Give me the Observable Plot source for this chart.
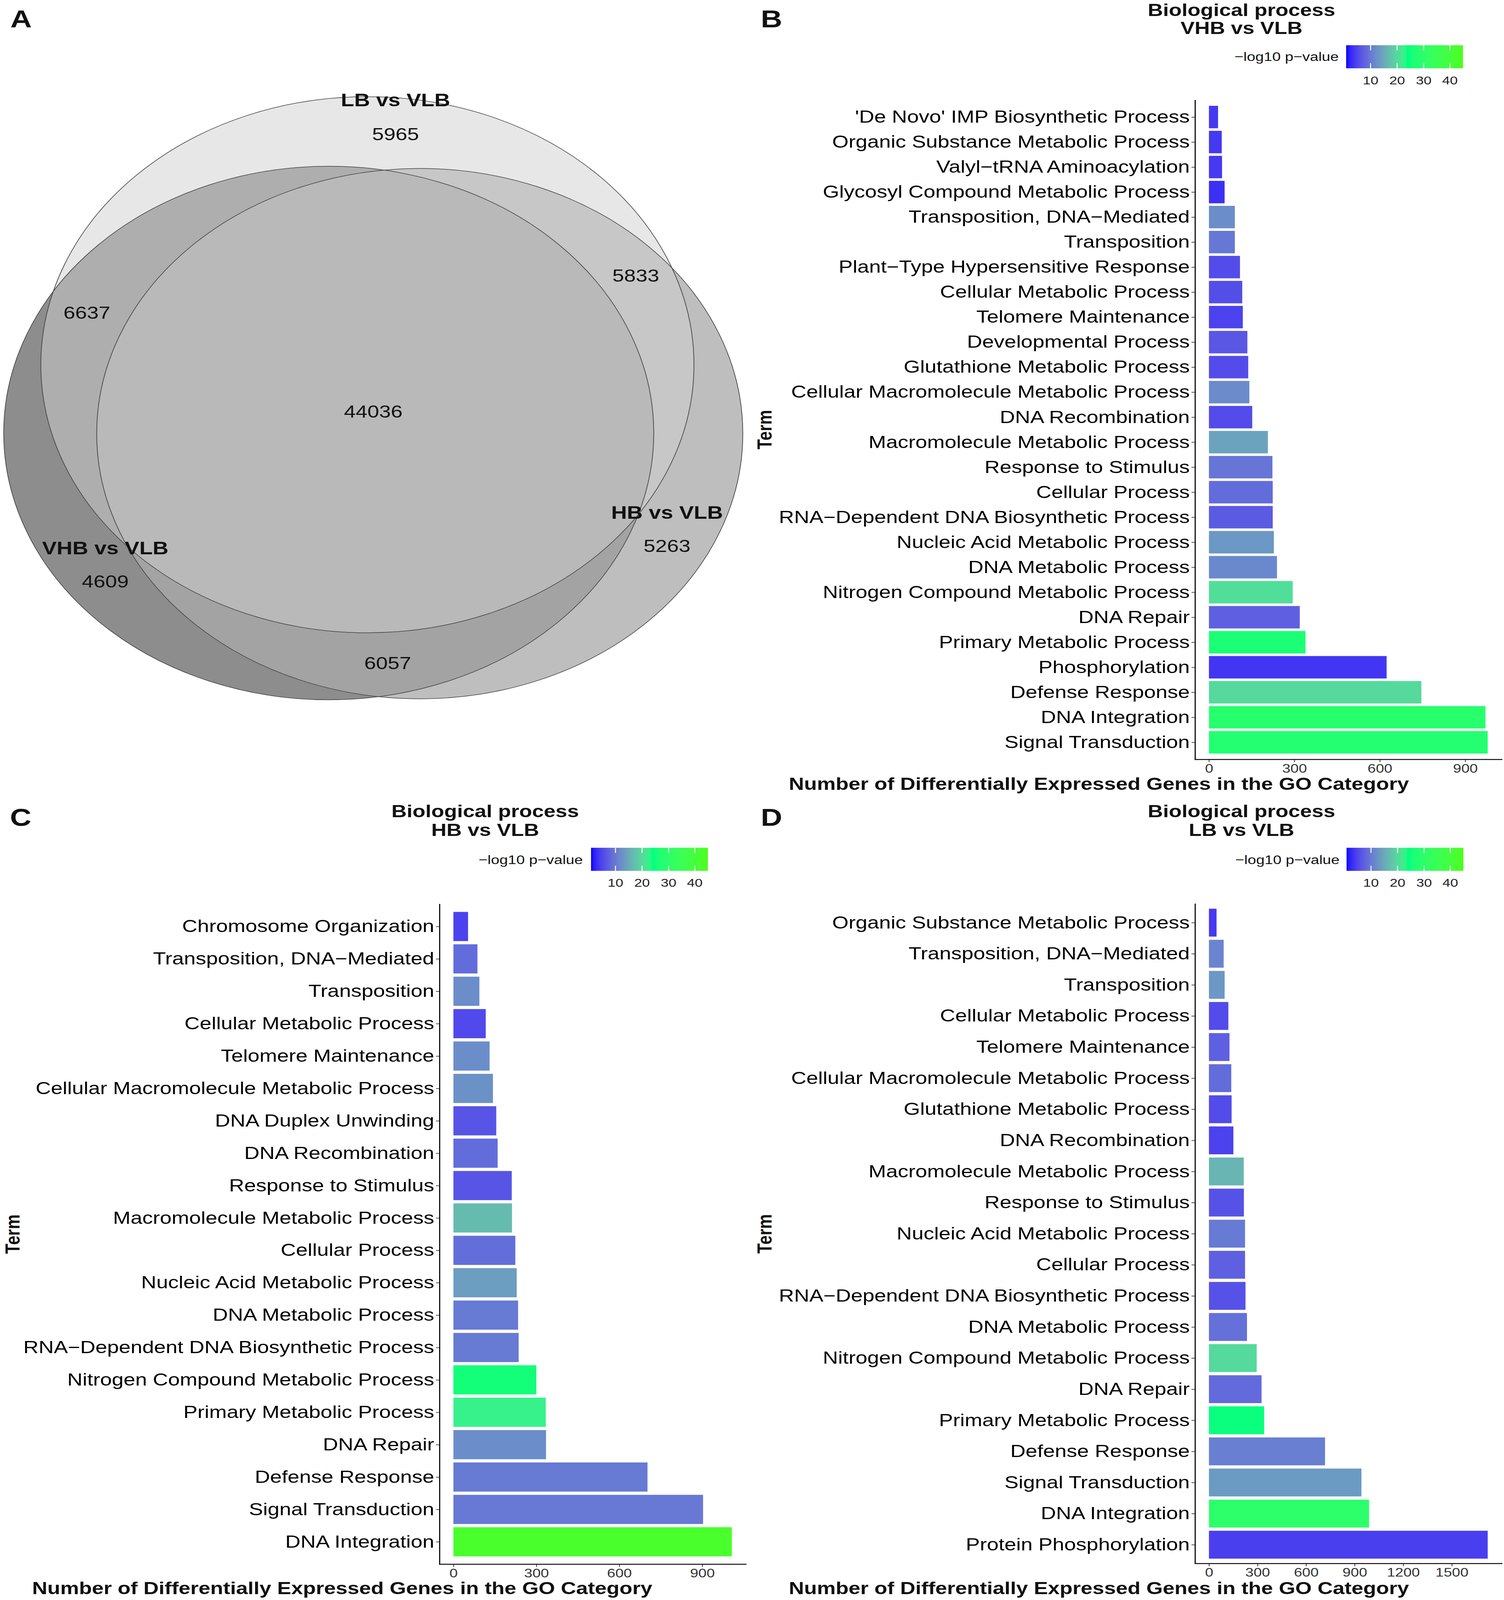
<!DOCTYPE html>
<html><head><meta charset="utf-8">
<script src="https://cdn.jsdelivr.net/npm/d3@7"></script>
<script src="https://cdn.jsdelivr.net/npm/@observablehq/plot@0.6"></script>
<style>
html,body{margin:0;padding:0;background:#fff;overflow:hidden;}
#page{position:relative;width:3850px;height:4990px;background:#fff;font-family:"Liberation Sans",Arial,Helvetica,sans-serif;color:#111;overflow:hidden;}
.abs{position:absolute;white-space:nowrap;line-height:1;}
</style></head><body><div id="page"></div>
<script>
// ---------------- DATA ----------------
const vennSets = ["LB vs VLB", "VHB vs VLB", "HB vs VLB"];
const vennRegions = ["LB only", "VHB only", "HB only", "LB & VHB", "LB & HB", "VHB & HB", "All three"];
const vennCounts = [5965, 4609, 5263, 6637, 5833, 6057, 44036];

const termsB = ["'De Novo' IMP Biosynthetic Process", "Organic Substance Metabolic Process", "Valyl\u2212tRNA Aminoacylation", "Glycosyl Compound Metabolic Process", "Transposition, DNA\u2212Mediated", "Transposition", "Plant\u2212Type Hypersensitive Response", "Cellular Metabolic Process", "Telomere Maintenance", "Developmental Process", "Glutathione Metabolic Process", "Cellular Macromolecule Metabolic Process", "DNA Recombination", "Macromolecule Metabolic Process", "Response to Stimulus", "Cellular Process", "RNA\u2212Dependent DNA Biosynthetic Process", "Nucleic Acid Metabolic Process", "DNA Metabolic Process", "Nitrogen Compound Metabolic Process", "DNA Repair", "Primary Metabolic Process", "Phosphorylation", "Defense Response", "DNA Integration", "Signal Transduction"];
const countsB = [32, 45, 46, 55, 91, 91, 109, 117, 119, 135, 138, 142, 152, 207, 223, 224, 224, 228, 239, 294, 319, 339, 624, 746, 971, 979];
const pvalB = [3.8, 3.8, 3.8, 3.1, 12, 9.7, 5.4, 5.6, 4.5, 6.5, 5.4, 11.8, 5.4, 14.3, 9.5, 8.6, 6.8, 13.2, 11.6, 20.5, 7.4, 26.5, 3.5, 20, 29, 28];

const termsC = ["Chromosome Organization", "Transposition, DNA\u2212Mediated", "Transposition", "Cellular Metabolic Process", "Telomere Maintenance", "Cellular Macromolecule Metabolic Process", "DNA Duplex Unwinding", "DNA Recombination", "Response to Stimulus", "Macromolecule Metabolic Process", "Cellular Process", "Nucleic Acid Metabolic Process", "DNA Metabolic Process", "RNA\u2212Dependent DNA Biosynthetic Process", "Nitrogen Compound Metabolic Process", "Primary Metabolic Process", "DNA Repair", "Defense Response", "Signal Transduction", "DNA Integration"];
const countsC = [53, 87, 94, 117, 131, 143, 155, 160, 211, 212, 224, 229, 234, 236, 300, 334, 335, 702, 903, 1007];
const pvalC = [4.5, 8.6, 12, 5.2, 12, 12.5, 6.3, 8.6, 6.3, 16.9, 8.8, 13.8, 10, 10, 25.5, 22.6, 12, 10, 9.8, 43];

const termsD = ["Organic Substance Metabolic Process", "Transposition, DNA\u2212Mediated", "Transposition", "Cellular Metabolic Process", "Telomere Maintenance", "Cellular Macromolecule Metabolic Process", "Glutathione Metabolic Process", "DNA Recombination", "Macromolecule Metabolic Process", "Response to Stimulus", "Nucleic Acid Metabolic Process", "Cellular Process", "RNA\u2212Dependent DNA Biosynthetic Process", "DNA Metabolic Process", "Nitrogen Compound Metabolic Process", "DNA Repair", "Primary Metabolic Process", "Defense Response", "Signal Transduction", "DNA Integration", "Protein Phosphorylation"];
const countsD = [47, 91, 97, 120, 127, 138, 140, 151, 215, 216, 223, 223, 226, 235, 295, 325, 341, 717, 942, 989, 1722];
const pvalD = [3.8, 11, 13.2, 5.4, 7.4, 8.6, 5.4, 4.5, 16.2, 6, 10, 7.4, 6, 9, 20, 8.4, 24.6, 10.5, 13.4, 30, 4.3];

const ticksBC = [0, 300, 600, 900];
const ticksD = [0, 300, 600, 900, 1200, 1500];
const legendTicks = [10, 20, 30, 40];
const pDomain = [0.8, 45];
const pMid = 24;

const titles = {B: "VHB vs VLB", C: "HB vs VLB", D: "LB vs VLB"};

// ---------------- LAYOUT ----------------
const FONT = '"Liberation Sans", Arial, Helvetica, sans-serif';
const page = document.getElementById("page");

const tm = (pMid - pDomain[0]) / (pDomain[1] - pDomain[0]);
const lab1 = d3.interpolateLab("#0000ff", "#00ff7f");
const lab2 = d3.interpolateLab("#00ff7f", "#4cff1a");
const interp = t => t < tm ? lab1(t / tm) : lab2((t - tm) / (1 - tm));
const colorOpts = {type: "linear", domain: pDomain, interpolate: interp};

function put(el, left, top) {
  el.style.position = "absolute";
  el.style.left = left + "px";
  el.style.top = top + "px";
  page.appendChild(el);
}
function txt(str, x, y, size, weight, align = "c", rot = 0) {
  const d = document.createElement("div");
  d.className = "abs";
  d.textContent = str;
  d.style.left = x + "px";
  d.style.top = y + "px";
  d.style.fontSize = size + "px";
  d.style.fontWeight = weight;
  const tx = align === "c" ? "-50%" : align === "r" ? "-100%" : "0";
  d.style.transform = `translate(${tx},-50%)` + (rot ? ` rotate(${rot}deg)` : "");
  page.appendChild(d);
  return d;
}

// ---------------- VENN (panel A) ----------------
const vennLayout = [
  {set: "VHB vs VLB", cx: 841, cy: 1350, r: 832, fill: "#8d8d8d", op: 1},
  {set: "HB vs VLB", cx: 1074, cy: 1352, r: 827, fill: "#aaaaaa", op: 0.763},
  {set: "LB vs VLB", cx: 940, cy: 1137, r: 836, fill: "#cfcfcf", op: 0.5}
];
const setLabelPos = {"LB vs VLB": [1012, 313], "VHB vs VLB": [269, 1710], "HB vs VLB": [1707, 1600]};
const countPos = [[1012, 419], [269, 1815], [1707, 1704], [222, 976], [1627, 861], [992, 2069], [955, 1284]];

const setLabels = vennSets.map(s => ({label: s, x: setLabelPos[s][0], y: setLabelPos[s][1]}));
const countLabels = vennRegions.map((r, i) => ({region: r, label: String(vennCounts[i]), x: countPos[i][0], y: countPos[i][1]}));

const venn = Plot.plot({
  width: 1925, height: 2350, margin: 0,
  style: {background: "none", fontFamily: FONT, overflow: "visible"},
  x: {domain: [0, 1925], range: [0, 1925], axis: null},
  y: {domain: [0, 2350], range: [0, 2350], axis: null},
  r: {type: "identity"},
  opacity: {type: "identity"},
  marks: [
    Plot.dot(vennLayout, {x: "cx", y: "cy", r: "r", fill: "fill", fillOpacity: "op", stroke: null, sort: null}),
    Plot.dot(vennLayout, {x: "cx", y: "cy", r: "r", fill: "none", stroke: "#444", strokeWidth: 1.8, sort: null}),
    Plot.text(setLabels, {x: "x", y: "y", text: "label", fontSize: 56, fontWeight: "bold", fill: "#111"}),
    Plot.text(countLabels, {x: "x", y: "y", text: "label", fontSize: 54, fill: "#111"})
  ]
});
put(venn, 0, 0);

// ---------------- BAR PANELS ----------------
function barChart(terms, counts, pvals, ticks, left, top, width, height, mL, mR, mT, mB) {
  const data = terms.map((t, i) => ({term: t, count: counts[i], p: pvals[i]}));
  const max = d3.max(counts);
  const chart = Plot.plot({
    width, height, marginLeft: mL, marginRight: mR, marginTop: mT, marginBottom: mB,
    style: {background: "none", fontFamily: FONT, color: "#1a1a1a", overflow: "visible"},
    x: {domain: [-0.05 * max, 1.05 * max]},
    y: {domain: terms, paddingInner: 0.1, paddingOuter: 0.15, align: 0.5},
    color: colorOpts,
    marks: [
      Plot.barX(data, {x: "count", y: "term", fill: "p"}),
      Plot.axisY({tickSize: 9, tickPadding: 5, fontSize: 54, label: null, fill: "#000", stroke: "#333", strokeWidth: 2}),
      Plot.axisX({ticks, tickFormat: d3.format("d"), tickSize: 9, tickPadding: 5, fontSize: 38, label: null, fill: "#333", stroke: "#333", strokeWidth: 2}),
      Plot.frame({anchor: "left", stroke: "#111", strokeWidth: 3}),
      Plot.frame({anchor: "bottom", stroke: "#111", strokeWidth: 3})
    ]
  });
  put(chart, left, top);
}
barChart(termsB, countsB, pvalB, ticksBC, 1925, 250, 1925, 2250, 1134, 6, 63, 132);
barChart(termsC, countsC, pvalC, ticksBC, 0, 2760, 1925, 2230, 1125, 16, 60, 112);
barChart(termsD, countsD, pvalD, ticksD, 1925, 2760, 1925, 2230, 1134, 6, 59, 114);

// ---------------- LEGENDS ----------------
function legend(left, top) {
  const barW = 299, barH = 72, mT = 5, mB = 50, mL = 12, mR = 12;
  const svg = Plot.legend({
    color: colorOpts, width: barW + mL + mR, height: barH + mT + mB,
    marginTop: mT, marginBottom: mB, marginLeft: mL, marginRight: mR,
    ticks: legendTicks, tickSize: 21, tickFormat: d3.format("d"), label: null,
    style: {fontSize: "36px", fontFamily: FONT, background: "none", color: "#222", overflow: "visible"}
  });
  d3.select(svg).selectAll(".tick").each(function () {
    const g = d3.select(this);
    g.select("line").attr("y1", -barH).attr("y2", -barH * 0.78).attr("stroke", "#fff").attr("stroke-width", 2.5);
    g.insert("line", "text").attr("y1", -barH * 0.22).attr("y2", 0).attr("stroke", "#fff").attr("stroke-width", 2.5);
  });
  put(svg, left, top);
}
legend(3434, 136);
legend(1501, 2639);
legend(3435, 2639);

// ---------------- TEXTS ----------------
const pTitle = "Biological process";
const xTitle = "Number of Differentially Expressed Genes in the GO Category";
const legLabel = "\u2212log10 p\u2212value";

txt("A", 54, 59, 76, "bold");
txt("B", 1975, 59, 76, "bold");
txt("C", 53, 2550, 76, "bold");
txt("D", 1975, 2550, 76, "bold");

txt(pTitle, 3178, 31, 54, "bold");
txt(titles.B, 3178, 87, 54, "bold");
txt(pTitle, 1242, 2530, 54, "bold");
txt(titles.C, 1242, 2588, 54, "bold");
txt(pTitle, 3178, 2530, 54, "bold");
txt(titles.D, 3178, 2588, 54, "bold");

txt(legLabel, 3427, 177, 39, "normal", "r");
txt(legLabel, 1492, 2681, 39, "normal", "r");
txt(legLabel, 3429, 2681, 39, "normal", "r");

txt(xTitle, 2813, 2444, 54, "bold");
txt(xTitle, 876, 4953, 54, "bold");
txt(xTitle, 2813, 4953, 54, "bold");

txt("Term", 1957, 1340, 52, "bold", "c", -90);
txt("Term", 32, 3849, 52, "bold", "c", -90);
txt("Term", 1957, 3848, 52, "bold", "c", -90);

// Fit the full 3850x4990 figure into the actual viewport if it is smaller
const sx = Math.min(1, window.innerWidth / 3850);
const sy = Math.min(1, window.innerHeight / 4990);
if (sx < 1 || sy < 1) {
  page.style.transformOrigin = "0 0";
  page.style.transform = `scale(${sx}, ${sy})`;
}
</script></body></html>
